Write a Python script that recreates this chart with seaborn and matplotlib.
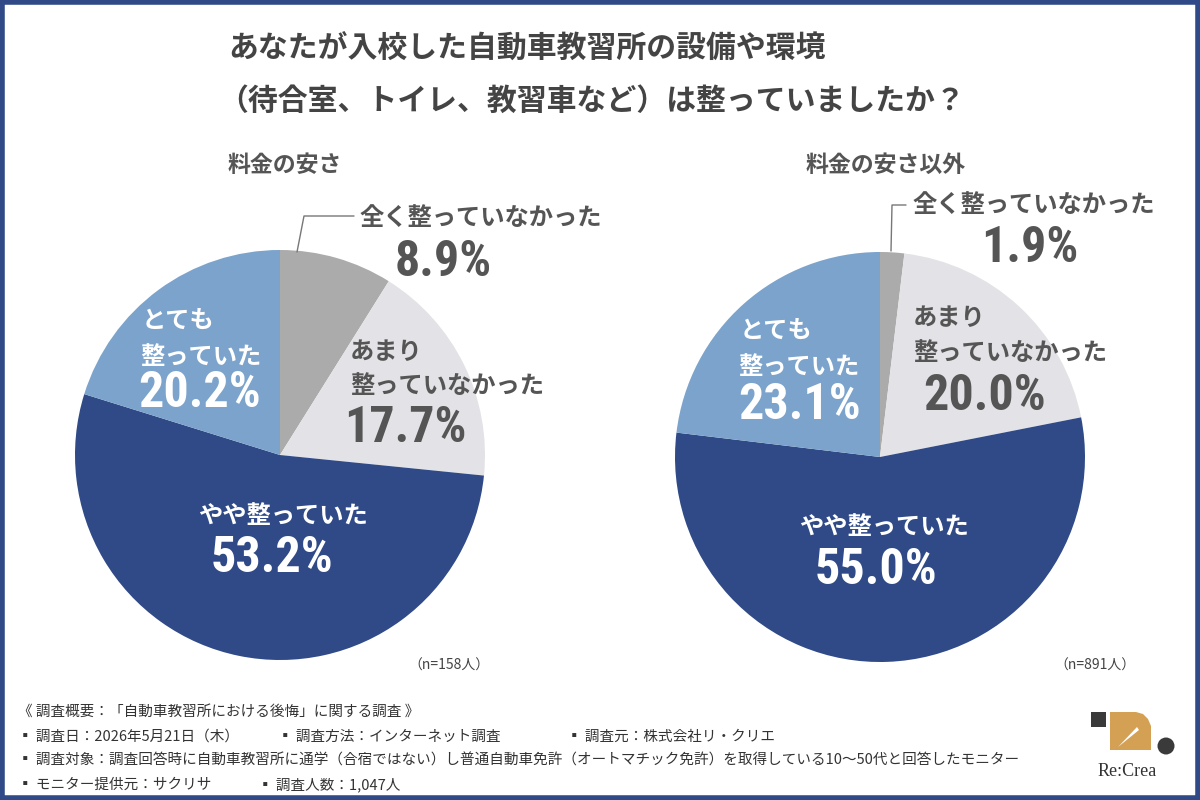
import matplotlib
matplotlib.use("Agg")
import matplotlib.pyplot as plt
import seaborn as sns
from matplotlib import font_manager
from matplotlib.patches import Rectangle, Ellipse, Polygon

# ---------------- data ----------------
title_lines = ["あなたが入校した自動車教習所の設備や環境",
               "（待合室、トイレ、教習車など）は整っていましたか？"]
categories = ["全く整っていなかった", "あまり整っていなかった", "やや整っていた", "とても整っていた"]
groups = ["料金の安さ", "料金の安さ以外"]
values_cheap = [8.9, 17.7, 53.2, 20.2]
values_other = [1.9, 20.0, 55.0, 23.1]
sample_sizes = ["（n=158人）", "（n=891人）"]
footer_lines = [
    "《 調査概要：「自動車教習所における後悔」に関する調査 》",
]
footer_items = [
    ["▪ 調査日：2026年5月21日（木）", "▪ 調査方法：インターネット調査", "▪ 調査元：株式会社リ・クリエ"],
    ["▪ 調査対象：調査回答時に自動車教習所に通学（合宿ではない）し普通自動車免許（オートマチック免許）を取得している10〜50代と回答したモニター"],
    ["▪ モニター提供元：サクリサ", "▪ 調査人数：1,047人"],
]
colors = ["#ABABAB", "#E3E3E7", "#2F4A87", "#7BA3CC"]

sns.set_theme(style="white")
JP = ["Noto Sans CJK JP", "DejaVu Sans"]
plt.rcParams["font.family"] = JP

# pick a condensed bold face for the percentages if one is installed
NUMF, NUMSTRETCH, NUMSIZE = ["Roboto", "DejaVu Sans"], "normal", 31
cands = {}
for f in font_manager.fontManager.ttflist:
    cands.setdefault((f.name, f.stretch), []).append(f.weight)
for name in ["Liberation Sans Narrow", "Roboto Condensed", "Open Sans Condensed"]:
    if any(k[0] == name for k in cands):
        NUMF, NUMSTRETCH, NUMSIZE = [name], "normal", 36
        break
else:
    for name in ["Noto Sans", "DejaVu Sans", "Open Sans"]:
        ks = [k for k in cands if k[0] == name and k[1] in ("condensed", "semi-condensed", 'semi-expanded') and k[1] != 'semi-expanded']
        if ks:
            NUMF, NUMSTRETCH, NUMSIZE = [name], ks[0][1], 35
            break

W, H = 1200, 800
fig = plt.figure(figsize=(12, 8), dpi=100)
fig.patch.set_facecolor("white")


def P(x, y):
    return x / W, 1 - y / H


def t(x, y, s, size, color="#555555", ha="left", va="center", weight="bold", family=JP, **kw):
    fx, fy = P(x, y)
    fig.text(fx, fy, s, fontsize=size, color=color, ha=ha, va=va, weight=weight, family=family, **kw)


def num(x, y, s, color):
    t(x, y, s, NUMSIZE, color=color, ha="center", family=NUMF, fontstretch=NUMSTRETCH)


# title
t(228, 49, title_lines[0], 21.5, color="#444444")
t(218, 101, title_lines[1], 21.5, color="#444444")

# pies
centers = [(280, 455), (880, 457)]
R = 205
for (cx, cy), vals in zip(centers, [values_cheap, values_other]):
    l, b = (cx - R) / W, 1 - (cy + R) / H
    ax = fig.add_axes([l, b, 2 * R / W, 2 * R / H])
    ax.pie(vals, colors=colors, startangle=90, counterclock=False,
           wedgeprops=dict(linewidth=0))
    ax.set_xlim(-1, 1)
    ax.set_ylim(-1, 1)
    ax.set_aspect("equal")
    ax.axis("off")

gray = "#555555"
# left pie labels
t(228, 165, groups[0], 16.5)
t(360, 218, "全く整っていなかった", 17.5, color=gray)
num(443, 262, f"{values_cheap[0]:.1f}%", gray)
t(350, 352, "あまり", 17.5, color=gray)
t(350, 386, "整っていなかった", 17.5, color=gray)
num(405, 429, f"{values_cheap[1]:.1f}%", gray)
t(142, 321, "とても", 17.5, color="white")
t(140, 357, "整っていた", 17.5, color="white")
num(200, 394, f"{values_cheap[3]:.1f}%", "white")
t(283, 516, "やや整っていた", 17.5, color="white", ha="center")
num(272, 558, f"{values_cheap[2]:.1f}%", "white")
t(490, 666, sample_sizes[0], 10, color="#444444", ha="right", weight="normal")

# right pie labels
t(806, 165, groups[1], 16.5)
t(913, 205, "全く整っていなかった", 17.5, color=gray)
num(1030, 248, f"{values_other[0]:.1f}%", gray)
t(913, 318, "あまり", 17.5, color=gray)
t(913, 353, "整っていなかった", 17.5, color=gray)
num(985, 396, f"{values_other[1]:.1f}%", gray)
t(740, 331, "とても", 17.5, color="white")
t(738, 367, "整っていた", 17.5, color="white")
num(800, 406, f"{values_other[3]:.1f}%", "white")
t(884, 527, "やや整っていた", 17.5, color="white", ha="center")
num(876, 571, f"{values_other[2]:.1f}%", "white")
t(1135, 666, sample_sizes[1], 10, color="#444444", ha="right", weight="normal")

# leader lines
def line(pts, color="#777777", lw=1):
    xs = [p[0] / W for p in pts]
    ys = [1 - p[1] / H for p in pts]
    fig.add_artist(plt.Line2D(xs, ys, color=color, lw=lw, transform=fig.transFigure))

line([(297, 252), (304, 216), (354, 216)])
line([(891, 251), (892, 205), (906, 205)])

# footer
t(18, 712, footer_lines[0], 10.5, color="#333333", weight="normal")
ys = [737, 761, 785]
xs_rows = [[18, 278, 567], [18], [18, 258]]
for y, items, xs in zip(ys, footer_items, xs_rows):
    for x, s in zip(xs, items):
        t(x, y, s, 10.5, color="#333333", weight="normal")

# logo
def fig_patch(p):
    p.set_transform(fig.transFigure)
    fig.add_artist(p)

fig_patch(Rectangle(P(1091, 727), 15 / W, 15 / H, facecolor="#3A3A3A", edgecolor="none"))
gold = [(1110, 712), (1136, 712), (1143, 714), (1148, 719), (1151, 726), (1151, 750), (1110, 750)]
fig_patch(Polygon([P(*q) for q in gold], closed=True, facecolor="#D4A154", edgecolor="none"))
fig_patch(Polygon([P(1118, 747), P(1137, 727), P(1139, 730)], closed=True, facecolor="white", edgecolor="none"))
fig_patch(Ellipse(P(1166, 746), 17 / W, 17 / H, facecolor="#3A3A3A", edgecolor="none"))
t(1127, 772, "Re:Crea", 13, color="#333333", ha="center", weight="normal", family=["Liberation Serif", "DejaVu Serif"])

# border
fig_patch(Rectangle((0.0015, 0.0025), 0.997, 0.995, fill=False, edgecolor="#2F4A87", linewidth=4))

fig.savefig("out.png", dpi=100, facecolor="white")
